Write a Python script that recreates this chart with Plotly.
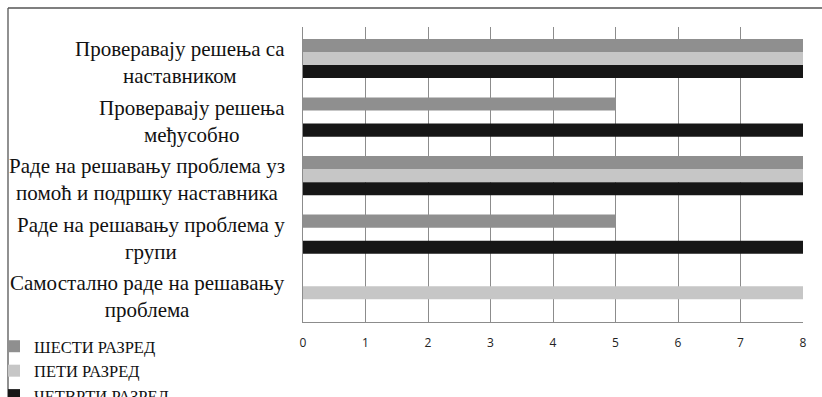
import plotly.graph_objects as go

categories = [
    "Проверавају решења са<br>наставником",
    "Проверавају решења<br>међусобно",
    "Раде на решавању проблема уз<br>помоћ и подршку наставника",
    "Раде на решавању проблема у<br>групи",
    "Самостално раде на решавању<br>проблема",
]
series_names = ["ШЕСТИ РАЗРЕД", "ПЕТИ РАЗРЕД", "ЧЕТВРТИ РАЗРЕД"]
sesti = [8, 5, 8, 5, 0]
peti = [8, 0, 8, 0, 8]
cetvrti = [8, 8, 8, 8, 0]
colors = ["#8f8f8f", "#c6c6c6", "#161616"]
x_ticks = [0, 1, 2, 3, 4, 5, 6, 7, 8]

W, H = 822, 397
L, R, T, B = 303, 19, 27, 75
pw, ph = W - L - R, H - T - B


def px_x(px):
    return (px - L) / pw


def px_y(py):
    return (H - B - py) / ph


fig = go.Figure()
for i, (name, vals) in enumerate(zip(series_names, [sesti, peti, cetvrti])):
    fig.add_trace(go.Bar(
        y=categories, x=vals, name=name, orientation="h",
        marker=dict(color=colors[i], line=dict(width=0)),
    ))

serif = "'Liberation Serif', 'Times New Roman', serif"
for c in categories:
    fig.add_annotation(
        text=c, xref="paper", yref="y", x=px_x(287), y=c,
        xanchor="right", yanchor="middle", align="center",
        showarrow=False, yshift=-4,
        font=dict(family=serif, size=21, color="#111"),
    )

fig.update_layout(
    width=W, height=H,
    margin=dict(l=L, r=R, t=T, b=B, autoexpand=False),
    barmode="group", bargap=0.33, bargroupgap=0,
    plot_bgcolor="white", paper_bgcolor="white",
    showlegend=True,
    legend=dict(
        x=px_x(-6), y=px_y(329), xanchor="left", yanchor="top",
        font=dict(family=serif, size=16.5, color="#111"),
        traceorder="normal",
        bgcolor="rgba(0,0,0,0)", itemwidth=30,
    ),
    xaxis=dict(
        range=[0, 8], tickvals=x_ticks, showgrid=True, gridcolor="#8c8c8c", gridwidth=1,
        zeroline=False, showline=True, linecolor="#8c8c8c", linewidth=1, ticks="",
        tickfont=dict(family="'Open Sans', 'DejaVu Sans', sans-serif", size=12, color="#222"),
        ticklabelstandoff=10,
    ),
    yaxis=dict(
        autorange="reversed", showticklabels=False, showgrid=False,
        showline=True, linecolor="#8c8c8c", linewidth=1, ticks="",
    ),
    shapes=[
        dict(type="line", xref="paper", yref="paper", x0=px_x(8), x1=px_x(830),
             y0=px_y(8), y1=px_y(8), line=dict(color="#555", width=1.3)),
        dict(type="line", xref="paper", yref="paper", x0=px_x(8), x1=px_x(8),
             y0=px_y(8), y1=px_y(405), line=dict(color="#555", width=1.3)),
    ],
)

fig.write_html("out.html")
